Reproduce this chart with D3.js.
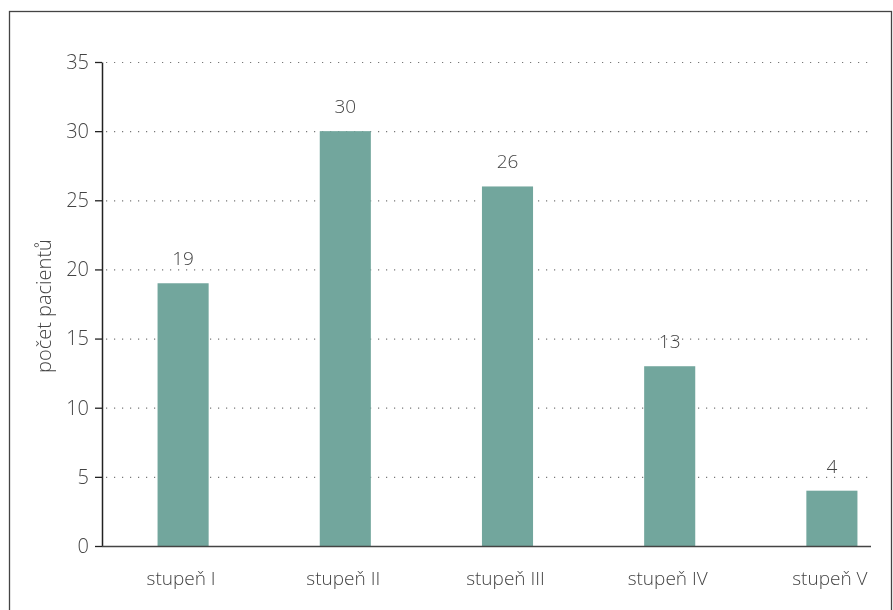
<!DOCTYPE html>
<html>
<head>
<meta charset="utf-8">
<script src="https://cdn.jsdelivr.net/npm/d3@7"></script>
<style>
  body { margin: 0; background: #fff; }
  svg { will-change: transform; }
  text { font-family: "Open Sans", sans-serif; fill: #444; }
</style>
</head>
<body>
<div id="chart"></div>
<script>
// --- data ---
const categories = ["stupeň I", "stupeň II", "stupeň III", "stupeň IV", "stupeň V"];
const values = [19, 30, 26, 13, 4];
const yTicks = [0, 5, 10, 15, 20, 25, 30, 35];

// --- sizing ---
const W = 893, H = 610;
const axisLeft = 102, axisRight = 871, plotTop = 62, plotBottom = 546;

const svg = d3.select("#chart").append("svg")
  .attr("width", W).attr("height", H);

// outer frame
svg.append("rect")
  .attr("x", 9.5).attr("y", 11.5)
  .attr("width", 882).attr("height", 620)
  .attr("fill", "none").attr("stroke", "#444").attr("stroke-width", 1.3);

const x = d3.scaleBand()
  .domain(categories)
  .range([102, 913])
  .paddingInner(0.685)
  .paddingOuter(0.3425);

const y = d3.scaleLinear().domain([0, 35]).range([plotBottom, plotTop]);

// gridlines (dotted)
svg.append("g").selectAll("line")
  .data(yTicks.filter(d => d > 0))
  .join("line")
  .attr("x1", axisLeft + 4).attr("x2", axisRight)
  .attr("y1", d => y(d) + 0.5).attr("y2", d => y(d) + 0.5)
  .attr("stroke", "#777").attr("stroke-width", 1.2)
  .attr("stroke-dasharray", "1.2,6.8");

// bars
svg.append("g").selectAll("rect")
  .data(values)
  .join("rect")
  .attr("x", (d, i) => x(categories[i]))
  .attr("width", x.bandwidth())
  .attr("y", d => y(d))
  .attr("height", d => y(0) - y(d))
  .attr("fill", "#72a69d");

// value labels
svg.append("g").selectAll("text")
  .data(values)
  .join("text")
  .attr("x", (d, i) => x(categories[i]) + x.bandwidth() / 2)
  .attr("y", d => y(d) - 18)
  .attr("text-anchor", "middle")
  .style("font-size", "19px")
  .style("font-weight", 300)
  .text(d => d);

// y axis
const yAxis = svg.append("g")
  .attr("transform", `translate(${axisLeft},0)`)
  .call(d3.axisLeft(y).tickValues(yTicks).tickSize(7).tickSizeOuter(0).tickPadding(6));
yAxis.select(".domain").attr("stroke", "#222").attr("stroke-width", 1.5);
yAxis.selectAll(".tick line").attr("stroke", "#222").attr("stroke-width", 1.3);
yAxis.selectAll(".tick text")
  .style("font-family", "'Open Sans', sans-serif")
  .style("font-size", "20px").style("font-weight", 300).attr("fill", "#444");

// x axis line
svg.append("line")
  .attr("x1", axisLeft).attr("x2", axisRight)
  .attr("y1", plotBottom + 0.5).attr("y2", plotBottom + 0.5)
  .attr("stroke", "#444").attr("stroke-width", 1.5);

// x labels
svg.append("g").selectAll("text")
  .data(categories)
  .join("text")
  .attr("x", d => x(d) + x.bandwidth() / 2 - 2)
  .attr("y", 585)
  .attr("text-anchor", "middle")
  .style("font-size", "19px")
  .style("font-weight", 300)
  .text(d => d);

// y label
svg.append("text")
  .attr("transform", `translate(51,306) rotate(-90)`)
  .attr("text-anchor", "middle")
  .style("font-size", "20px")
  .style("font-weight", 300)
  .text("počet pacientů");
</script>
</body>
</html>
